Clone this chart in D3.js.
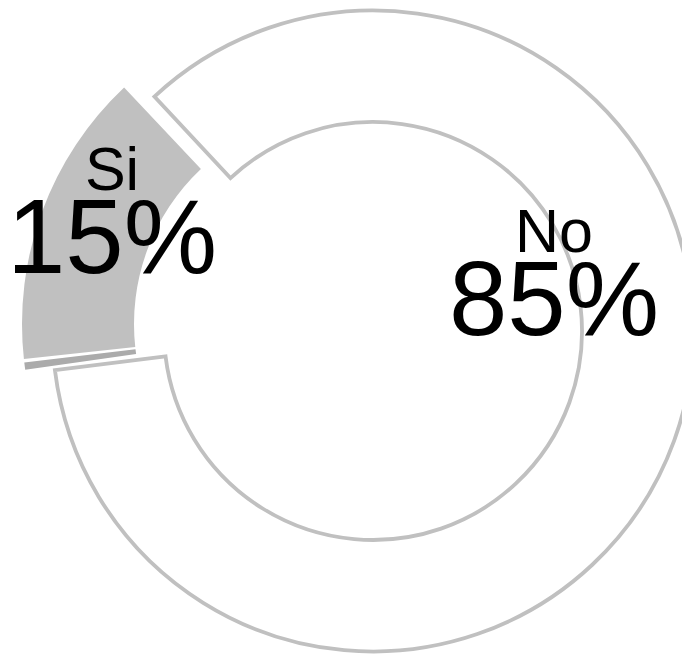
<!DOCTYPE html>
<html>
<head>
<meta charset="utf-8">
<script src="https://cdn.jsdelivr.net/npm/d3@7"></script>
<style>
  html, body { margin: 0; padding: 0; background: #ffffff; }
  svg { display: block; }
</style>
</head>
<body>
<svg id="chart" width="682" height="656"></svg>
<script>
// ---- data ----
const categories = ["Si", "No"];
const values = [15, 85];
const percentLabels = ["15%", "85%"];
const fills = ["#c0c0c0", "#ffffff"];

// ---- layout ----
const W = 682, H = 656;
const cx = 373, cy = 331;
const innerR = 209, outerR = 320.5;
const deg = Math.PI / 180;
const startA = 263 * deg;

const svg = d3.select("#chart");
const g = svg.append("g").attr("transform", `translate(${cx},${cy})`);

const pie = d3.pie().sort(null).value(d => d.v)
  .startAngle(startA).endAngle(startA + 2 * Math.PI);
const arcs = pie(categories.map((c, i) => ({ c, v: values[i], i })));

const arcNo = d3.arc().innerRadius(innerR).outerRadius(outerR);
const arcSi = d3.arc().innerRadius(213).outerRadius(325);

// "No" slice: white fill, grey outline
const noSlice = arcs[1];
g.append("path")
  .attr("d", arcNo(noSlice))
  .attr("fill", fills[1])
  .attr("stroke", "#c0c0c0")
  .attr("stroke-width", 3.8)
  .attr("stroke-linejoin", "miter");

// "Si" slice: exploded, grey fill
const si = arcs[0];
const ox = -26, oy = -7;
const gSi = g.append("g").attr("transform", `translate(${ox},${oy})`);
gSi.append("path")
  .attr("d", arcSi({ startAngle: si.startAngle + 0.8 * deg, endAngle: si.endAngle - 0.3 * deg }))
  .attr("fill", fills[0]);
gSi.append("path")
  .attr("d", arcSi({ startAngle: si.startAngle - 1.1 * deg, endAngle: si.startAngle + 0.2 * deg }))
  .attr("fill", "#ababab");

// ---- labels ----
const labelPos = [
  { x: 112, yName: 190, yPct: 273 },
  { x: 554, yName: 252, yPct: 335 }
];
const font = "'Liberation Sans', Arial, Helvetica, sans-serif";
categories.forEach((c, i) => {
  svg.append("text")
    .attr("x", labelPos[i].x).attr("y", labelPos[i].yName)
    .attr("text-anchor", "middle")
    .attr("font-family", font).attr("font-size", 61)
    .attr("fill", "#000").text(c);
  svg.append("text")
    .attr("x", labelPos[i].x).attr("y", labelPos[i].yPct)
    .attr("text-anchor", "middle")
    .attr("font-family", font).attr("font-size", 105)
    .attr("fill", "#000").text(percentLabels[i]);
});
</script>
</body>
</html>
